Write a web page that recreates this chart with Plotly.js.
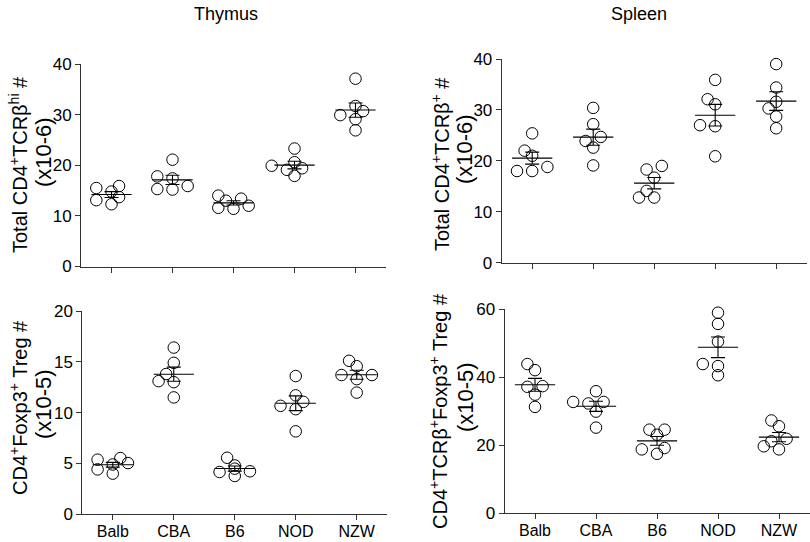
<!DOCTYPE html>
<html><head><meta charset="utf-8">
<script src="https://cdn.plot.ly/plotly-3.0.1.min.js"></script>
<style>html,body{margin:0;padding:0;background:#fff}#chart{width:810px;height:542px}</style>
</head><body><div id="chart"></div>
<script>
// ---- data ----
const strains = ['Balb', 'CBA', 'B6', 'NOD', 'NZW'];
const panelTitles = ['Thymus', 'Spleen'];

// Thymus: total CD4+TCRβhi (x10^-6)
const thymusCD4 = [
  [13.7, 15.5, 15.9, 14.8, 13.1, 12.3],
  [15.9, 17.8, 17.4, 21.1, 15.2, 15.3],
  [12.0, 13.4, 11.4, 13.0, 11.6, 14.0],
  [19.4, 20.6, 23.3, 17.9, 19.9, 19.1],
  [29.9, 31.7, 37.1, 26.9, 30.7, 29.1]
];
// Spleen: total CD4+TCRβ+ (x10^-6)
const spleenCD4 = [
  [18.8, 18.0, 25.4, 22.0, 21.0, 18.0],
  [23.9, 27.2, 30.4, 22.6, 19.1, 24.7],
  [18.3, 14.1, 16.7, 12.8, 19.0, 12.8],
  [31.1, 35.9, 20.9, 27.0, 32.1, 26.8],
  [26.4, 31.6, 34.4, 39.0, 30.3, 28.7]
];
// Thymus: CD4+Foxp3+ Treg (x10^-5)
const thymusTreg = [
  [4.9, 5.37, 4.0, 5.04, 4.42, 5.53],
  [14.9, 13.8, 11.5, 16.4, 13.1, 13.0],
  [4.23, 4.81, 5.56, 3.77, 4.49, 4.16],
  [11.7, 10.67, 13.6, 8.16, 11.06, 10.34],
  [15.1, 11.97, 14.57, 13.7, 13.7, 13.3]
];
// Spleen: CD4+TCRβ+Foxp3+ Treg (x10^-5)
const spleenTreg = [
  [42.1, 43.9, 37.4, 37.2, 34.9, 31.3],
  [35.9, 32.75, 32.75, 32.3, 29.9, 25.2],
  [24.6, 19.2, 23.1, 17.5, 24.6, 18.8],
  [43.9, 55.7, 50.5, 40.6, 59.0, 43.3],
  [21.2, 27.3, 18.8, 21.9, 25.6, 19.7]
];

const yTitles = [
  ['Total CD4<sup>+</sup>TCRβ<sup>hi</sup> #', '(x10-6)'],
  ['Total CD4<sup>+</sup>TCRβ<sup>+</sup> #', '(x10-6)'],
  ['CD4<sup>+</sup>Foxp3<sup>+</sup> Treg #', '(x10-5)'],
  ['CD4<sup>+</sup>TCRβ<sup>+</sup>Foxp3<sup>+</sup> Treg #', '(x10-5)']
];

// ---- layout geometry (pixels) ----
const W = 810, H = 542;
const FONT = 'Liberation Sans, Arial, sans-serif';
const panels = [
  {data: thymusCD4,  ymax: 40, dtick: 10, box: [81, 386, 64, 266.5],   labels: false, t1: [18, 165], t2: [43, 152]},
  {data: spleenCD4,  ymax: 40, dtick: 10, box: [501.7, 806.7, 59, 262.7], labels: false, t1: [440, 164], t2: [465, 149]},
  {data: thymusTreg, ymax: 20, dtick: 5,  box: [82.3, 387.2, 311, 514.3], labels: true, t1: [18, 408], t2: [43, 404]},
  {data: spleenTreg, ymax: 60, dtick: 20, box: [504.5, 809.5, 309.3, 513.3], labels: true, t1: [438, 411], t2: [465, 397]}
];

function mean(a) { return a.reduce((s, v) => s + v, 0) / a.length; }
function sem(a) {
  const m = mean(a);
  const v = a.reduce((s, x) => s + (x - m) * (x - m), 0) / (a.length - 1);
  return Math.sqrt(v / a.length);
}
// simple beeswarm: offsets in x units, avoiding marker collisions in pixel space
function swarm(vals, pyu, pxu) {
  const step = 7.6, D = 9;
  const order = vals.map((v, i) => i).sort((a, b) => vals[a] - vals[b]);
  const placed = [];
  const offs = new Array(vals.length).fill(0);
  const cands = [0, -1, 1, -2, 2, -3, 3];
  order.forEach(i => {
    const py = vals[i] * pyu;
    for (const c of cands) {
      const px = c * step;
      const ok = placed.every(p => Math.hypot(p[0] - px, p[1] - py) >= D);
      if (ok) { placed.push([px, py]); offs[i] = px / pxu; break; }
    }
  });
  return offs;
}

const traces = [];
const layout = {
  width: W, height: H,
  margin: {l: 0, r: 0, t: 0, b: 0},
  paper_bgcolor: '#fff', plot_bgcolor: 'rgba(0,0,0,0)',
  showlegend: false,
  font: {family: FONT, color: '#000'},
  annotations: []
};

panels.forEach((p, k) => {
  const n = k + 1;
  const xa = 'xaxis' + (n === 1 ? '' : n), ya = 'yaxis' + (n === 1 ? '' : n);
  const xr = 'x' + (n === 1 ? '' : n), yr = 'y' + (n === 1 ? '' : n);
  const [x0, x1, y0, y1] = p.box;
  const pxu = (x1 - x0) / 5, pyu = (y1 - y0) / p.ymax;
  layout[xa] = {
    domain: [x0 / W, x1 / W], anchor: yr, range: [-0.5, 4.5],
    tickmode: 'array', tickvals: strains.map((s, i) => i), ticktext: strains,
    showticklabels: p.labels, ticks: 'outside', ticklen: 5, tickwidth: 1, tickcolor: '#333',
    ticklabelstandoff: -3,
    showline: true, linecolor: '#333', linewidth: 1, showgrid: false, zeroline: false,
    tickfont: {family: FONT, size: 16, color: '#000'}, fixedrange: true
  };
  layout[ya] = {
    domain: [1 - y1 / H, 1 - y0 / H], anchor: xr, range: [0, p.ymax], dtick: p.dtick, tick0: 0,
    ticks: 'outside', ticklen: 5, tickwidth: 1, tickcolor: '#333',
    showline: true, linecolor: '#333', linewidth: 1, showgrid: false, zeroline: false,
    tickfont: {family: FONT, size: 17, color: '#000'}, fixedrange: true
  };
  const xs = [], ys = [];
  p.data.forEach((grp, i) => {
    const offs = swarm(grp, pyu, pxu);
    grp.forEach((v, j) => { xs.push(i + offs[j]); ys.push(v); });
  });
  traces.push({
    type: 'scatter', mode: 'markers', x: xs, y: ys, xaxis: xr, yaxis: yr,
    marker: {symbol: 'circle', size: 11.5, color: 'rgba(0,0,0,0)', line: {color: '#000', width: 1}},
    hoverinfo: 'y', cliponaxis: false
  });
  traces.push({
    type: 'scatter', mode: 'markers', x: strains.map((s, i) => i), y: p.data.map(mean),
    xaxis: xr, yaxis: yr,
    marker: {size: 1, color: 'rgba(0,0,0,0)'},
    error_y: {type: 'data', array: p.data.map(sem), visible: true, width: 7, thickness: 1.1, color: '#000'},
    error_x: {type: 'constant', value: 0.33, visible: true, width: 0, thickness: 1.1, color: '#000'},
    hoverinfo: 'skip', cliponaxis: false
  });
  layout.annotations.push({
    xref: 'paper', yref: 'paper', x: p.t1[0] / W, y: 1 - p.t1[1] / H, xanchor: 'center', yanchor: 'middle',
    text: yTitles[k][0], textangle: -90, showarrow: false, font: {family: FONT, size: 20, color: '#000'}
  });
  layout.annotations.push({
    xref: 'paper', yref: 'paper', x: p.t2[0] / W, y: 1 - p.t2[1] / H, xanchor: 'center', yanchor: 'middle',
    text: yTitles[k][1], textangle: -90, showarrow: false, font: {family: FONT, size: 22, color: '#000'}
  });
});

[[226, 14], [639, 14]].forEach((pos, i) => {
  layout.annotations.push({
    xref: 'paper', yref: 'paper', x: pos[0] / W, y: 1 - pos[1] / H, xanchor: 'center', yanchor: 'middle',
    text: panelTitles[i], showarrow: false, font: {family: FONT, size: 18, color: '#000'}
  });
});

Plotly.newPlot('chart', traces, layout, {displayModeBar: false, staticPlot: true});
</script>
</body></html>
